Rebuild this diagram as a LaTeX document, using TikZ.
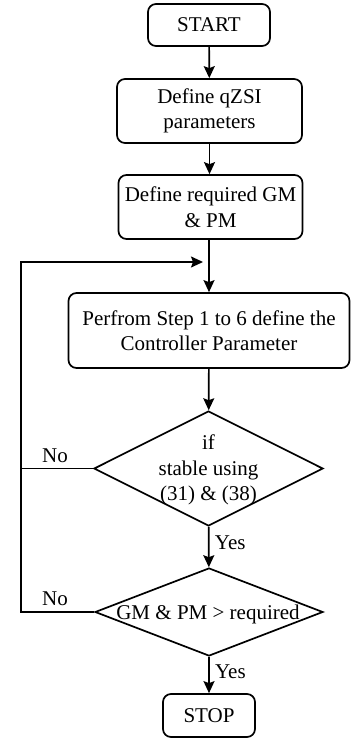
\documentclass[tikz,border=0pt]{standalone}
\usepackage{fontspec}
\setmainfont{Liberation Serif}
\usetikzlibrary{shapes.geometric,arrows.meta}
\tikzset{
  box/.style={draw, line width=1.7pt, rounded corners=8pt, inner sep=0pt, align=center},
  dia/.style={draw, line width=1.7pt, diamond, inner sep=0pt},
  txt/.style={inner sep=0pt, align=center},
  arr/.style={line width=1.7pt, -{Stealth[length=12pt,width=11pt,inset=2pt]}},
  ln/.style={line width=1.7pt},
}
\begin{document}
\begin{tikzpicture}[x=1pt,y=1pt,font=\fontsize{21}{25.5}\selectfont]
\useasboundingbox (0,0) rectangle (351,-741);
\node[box, minimum width=122pt, minimum height=42pt] (start) at (209,-25) {START};
\node[box, minimum width=185pt, minimum height=64pt] (def1) at (209.5,-111) {Define qZSI\\parameters};
\node[box, minimum width=184pt, minimum height=64pt] (def2) at (210.5,-207) {Define required GM\\\& PM};
\node[box, minimum width=281pt, minimum height=75pt] (perf) at (209,-330.5) {Perfrom Step 1 to 6 define the\\Controller Parameter};
\node[dia, minimum width=229pt, minimum height=115pt] (d1) at (208.5,-468.5) {};
\node[txt] (d1t) at (208.5,-470) {if\\stable using\\(31) \& (38)};
\node[dia, minimum width=228pt, minimum height=88pt] (d2) at (209,-612) {};
\node[txt] (d2t) at (208,-614) {GM \& PM {>} required};
\node[box, minimum width=92pt, minimum height=43pt] (stop) at (209,-715.5) {STOP};
\coordinate (jn) at (203,-262);
\coordinate (lt) at (21,-262);
\coordinate (lb) at (21,-612);
\draw[arr] (start) -- (def1);
\draw[arr] (def1.south) -- (def1.south |- def2.north);
\draw[arr] (def2.south -| perf.north) -- (perf.north);
\draw[arr] (perf) -- (d1);
\draw[arr] (d1) -- node[right=2pt, pos=0.4] (y1) {Yes} (d2);
\draw[arr] (d2) -- node[right=2pt, pos=0.4] (y2) {Yes} (stop);
\draw[ln] (d1.west) -- (d1.west -| lt);
\draw[arr] (d2.west) -- (lb) -- (lt) -- (jn);
\node[txt] (no1) at (55,-456) {No};
\node[txt] (no2) at (55,-599) {No};
\end{tikzpicture}
\end{document}
